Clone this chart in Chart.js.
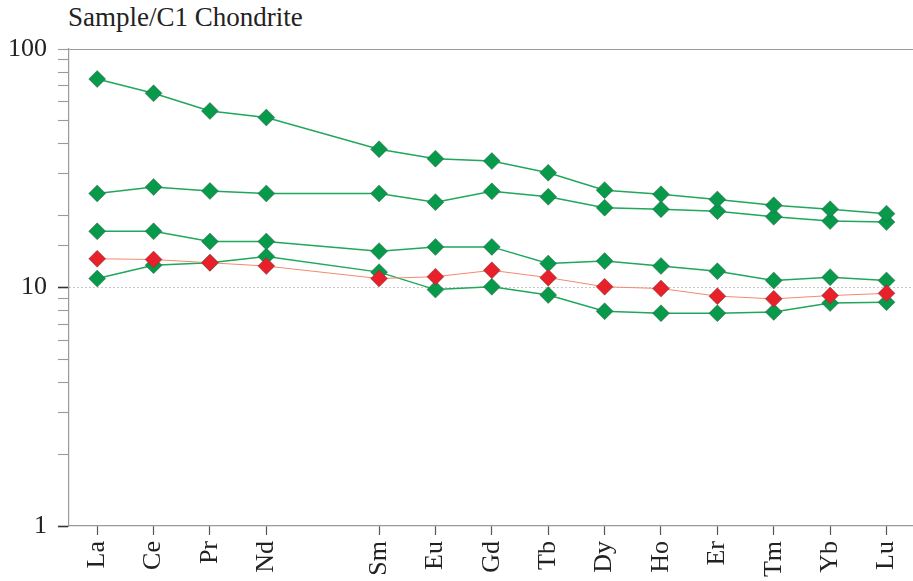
<!DOCTYPE html>
<html>
<head>
<meta charset="utf-8">
<script src="https://cdn.jsdelivr.net/npm/chart.js@4/dist/chart.umd.min.js"></script>
<style>
  html, body { margin: 0; padding: 0; background: #fff; overflow: hidden; }
  #wrap { position: relative; width: 913px; height: 581px; overflow: hidden; }
  #title { position: absolute; left: 68px; top: 2px; font: 27px 'Liberation Serif', 'Times New Roman', serif; color: #222; white-space: nowrap; }
  #c { position: absolute; left: 0; top: 0; }
</style>
</head>
<body>
<div id="wrap">
  <div id="title">Sample/C1 Chondrite</div>
  <canvas id="c" width="924" height="581"></canvas>
</div>
<script>
// Rare earth elements in order; Pm is left as an empty slot
const elements = ['La','Ce','Pr','Nd','Pm','Sm','Eu','Gd','Tb','Dy','Ho','Er','Tm','Yb','Lu'];
const skipped = ['Pm'];

// Chondrite-normalised concentrations
const sample1 = [74.8, 65.2, 55.0, 51.6, null, 38.0, 34.7, 33.9, 30.3, 25.6, 24.6, 23.4, 22.1, 21.3, 20.4];
const sample2 = [24.8, 26.4, 25.4, 24.8, null, 24.8, 22.8, 25.3, 24.0, 21.6, 21.3, 20.9, 19.8, 19.0, 18.8];
const sample3 = [17.2, 17.2, 15.6, 15.6, null, 14.2, 14.8, 14.8, 12.6, 12.9, 12.3, 11.7, 10.7, 11.05, 10.7];
const sample4 = [10.9, 12.4, 12.7, 13.5, null, 11.6, 9.8, 10.07, 9.3, 7.95, 7.8, 7.8, 7.9, 8.6, 8.68];
const sample5 = [13.2, 13.1, 12.7, 12.3, null, 10.9, 11.1, 11.8, 11.0, 10.07, 9.9, 9.2, 8.96, 9.25, 9.45];

const yMin = 1, yMax = 100, refValue = 10;

const serif = "'Liberation Serif', 'Times New Roman', serif";
const GREEN_LINE = '#1fa75c';
const GREEN_FILL = '#079a4a';
const RED_LINE = '#f3896f';
const RED_FILL = '#e8202a';

function series(data, line, fill, width) {
  return {
    data: data,
    borderColor: line,
    borderWidth: width,
    backgroundColor: fill,
    pointBackgroundColor: fill,
    pointBorderColor: 'rgba(70,70,70,0.55)',
    pointBorderWidth: 0.7,
    pointStyle: 'rectRot',
    pointRadius: 8.5,
    pointHoverRadius: 8.5,
    spanGaps: true,
    tension: 0
  };
}

const isDecade = v => Math.abs(Math.log10(v) - Math.round(Math.log10(v))) < 1e-9;

new Chart(document.getElementById('c'), {
  type: 'line',
  data: {
    labels: elements,
    datasets: [
      series(sample5, RED_LINE, RED_FILL, 1),
      series(sample1, GREEN_LINE, GREEN_FILL, 1.5),
      series(sample2, GREEN_LINE, GREEN_FILL, 1.5),
      series(sample3, GREEN_LINE, GREEN_FILL, 1.5),
      series(sample4, GREEN_LINE, GREEN_FILL, 1.5)
    ]
  },
  options: {
    responsive: false,
    animation: false,
    devicePixelRatio: 1,
    layout: { padding: { top: 49, right: 0, left: 0, bottom: 0 } },
    plugins: {
      legend: { display: false },
      title: { display: false },
      tooltip: { enabled: false }
    },
    scales: {
      x: {
        type: 'category',
        offset: true,
        grid: {
          drawOnChartArea: false,
          drawTicks: true,
          tickLength: 9,
          tickWidth: 1.2,
          tickColor: ctx => skipped.includes(elements[ctx.index]) ? 'rgba(0,0,0,0)' : '#555',
          offset: false
        },
        border: { display: true, color: '#9a9a9a', width: 1.2 },
        ticks: {
          autoSkip: false,
          minRotation: 90,
          maxRotation: 90,
          padding: 6,
          color: '#222',
          font: { family: serif, size: 26 },
          callback: (v, i) => skipped.includes(elements[i]) ? '' : elements[i]
        },
        afterFit: s => { s.height = 55; }
      },
      y: {
        type: 'logarithmic',
        min: yMin,
        max: yMax,
        grid: {
          drawOnChartArea: true,
          drawTicks: true,
          tickLength: 11,
          lineWidth: 1,
          color: ctx => {
            const v = ctx.tick && ctx.tick.value;
            if (v === yMax) return '#9a9a9a';
            if (v === refValue) return '#b5b5b5';
            return 'rgba(0,0,0,0)';
          },
          tickColor: ctx => (ctx.tick && isDecade(ctx.tick.value) && ctx.tick.value !== yMax) ? '#333' : '#9a9a9a',
          tickWidth: ctx => (ctx.tick && isDecade(ctx.tick.value) && ctx.tick.value !== yMax) ? 1.6 : 1.1
        },
        border: {
          display: true,
          color: '#9a9a9a',
          width: 1.2,
          dash: ctx => (ctx.tick && ctx.tick.value === refValue) ? [1.5, 2.5] : []
        },
        ticks: {
          autoSkip: false,
          padding: 11,
          color: '#222',
          font: { family: serif, size: 26 },
          callback: v => isDecade(v) ? String(v) : ''
        },
        afterFit: s => { s.width = 69; }
      }
    }
  }
});
</script>
</body>
</html>
